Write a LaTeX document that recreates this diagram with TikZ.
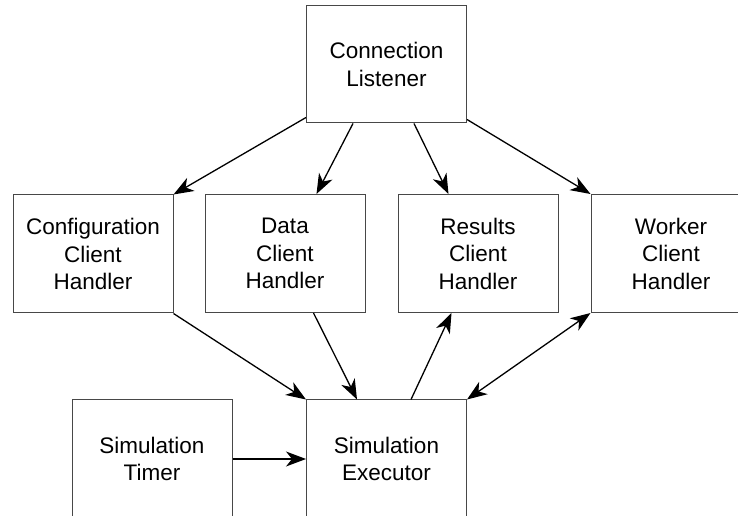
\documentclass[tikz,border=0pt]{standalone}
\usepackage{fontspec}
\setmainfont{Liberation Sans}
\usetikzlibrary{arrows.meta,calc}

\tikzset{
  block/.style={draw=black!72, line width=1pt, fill=white,
    minimum width=160pt, minimum height=118pt, inner sep=0pt,
    align=center, font=\fontsize{22.5}{27.5}\selectfont},
  link/.style={draw=black, line width=1.3pt,
    -{Stealth[length=20pt, width=15pt, inset=6pt]}},
  duplex/.style={draw=black, line width=1.3pt,
    {Stealth[length=20pt, width=15pt, inset=6pt]}-{Stealth[length=20pt, width=15pt, inset=6pt]}}
}

\begin{document}
\begin{tikzpicture}[x=1pt, y=1pt]
  \useasboundingbox (0,0) rectangle (738,516);

  % top: the listener that accepts connections
  \node[block, minimum height=117pt] (cl) at (386.5,451.5) {Connection\\Listener};

  % middle row: one handler per client type
  \node[block] (cfg) at (93,262)    {Configuration\\Client\\Handler};
  \node[block] (dat) at (285,262.5) {Data\\Client\\Handler};
  \node[block] (res) at (478,262.5) {Results\\Client\\Handler};
  \node[block] (wrk) at (671,262.5) {Worker\\Client\\Handler};

  % bottom row
  \node[block] (tmr) at (152,57)   {Simulation\\Timer};
  \node[block] (exe) at (386.5,57) {Simulation\\Executor};

  % listener spawns the handlers
  \draw[link] ($(cl.south west)+(0,6)$) -- (cfg.north east);
  \draw[link] ($(cl.south west)+(47,0)$) -- ($(dat.north west)+(112,0)$);
  \draw[link] ($(cl.south west)+(108,0)$) -- ($(res.north west)+(51,0)$);
  \draw[link] ($(cl.south east)+(0,4)$) -- (wrk.north west);

  % handlers and the executor
  \draw[link] (cfg.south east) -- (exe.north west);
  \draw[link] ($(dat.south west)+(109,0)$) -- ($(exe.north west)+(51,0)$);
  \draw[link] ($(exe.north west)+(105,0)$) -- ($(res.south west)+(54,0)$);
  \draw[duplex] (exe.north east) -- (wrk.south west);

  % timer drives the executor
  \draw[link] (tmr.east) -- (exe.west);
\end{tikzpicture}
\end{document}
